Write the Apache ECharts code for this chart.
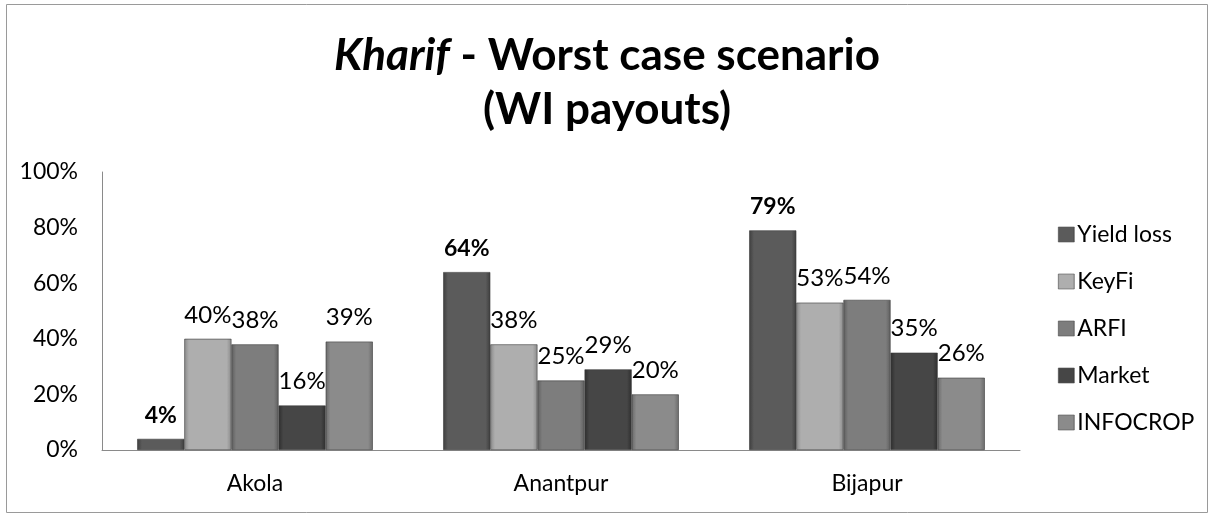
<!DOCTYPE html>
<html><head><meta charset="utf-8">
<script src="https://cdn.jsdelivr.net/npm/echarts@6/dist/echarts.min.js"></script>
<style>html,body{margin:0;padding:0;background:#fff}#c{width:1214px;height:518px}</style>
</head><body><div id="c"></div>
<script>
const categories = ['Akola', 'Anantpur', 'Bijapur'];
const seriesNames = ['Yield loss', 'KeyFi', 'ARFI', 'Market', 'INFOCROP'];
const yieldLoss = [4, 64, 79];
const keyFi = [40, 38, 53];
const arfi = [38, 25, 54];
const market = [16, 29, 35];
const infocrop = [39, 20, 26];
const yTicks = ['0%', '20%', '40%', '60%', '80%', '100%'];

const values = [yieldLoss, keyFi, arfi, market, infocrop];
const colors = ['#5b5b5b', '#aeaeae', '#7d7d7d', '#464646', '#8b8b8b'];
const edges = ['#3e3e3e', '#8a8a8a', '#5e5e5e', '#2e2e2e', '#6a6a6a'];
const font = 'Lato, "Open Sans", sans-serif';

function grad(i) {
  return new echarts.graphic.LinearGradient(0, 0, 1, 0, [
    {offset: 0, color: edges[i]}, {offset: 0.1, color: colors[i]},
    {offset: 0.9, color: colors[i]}, {offset: 1, color: edges[i]}
  ]);
}

const chart = echarts.init(document.getElementById('c'));
chart.setOption({
  animation: false,
  backgroundColor: '#fff',
  graphic: [{type: 'rect', shape: {x: 6.5, y: 4.5, width: 1201, height: 508}, style: {fill: 'none', stroke: '#9a9a9a', lineWidth: 1}}],
  title: {
    text: '{i|Kharif} - Worst case scenario\n(WI payouts)',
    left: 'center', top: 24,
    textStyle: {
      fontFamily: font, fontSize: 44, fontWeight: 'bold', color: '#000', lineHeight: 54,
      rich: {i: {fontStyle: 'italic', fontFamily: font, fontSize: 44, fontWeight: 'bold', color: '#000', lineHeight: 54}}
    }
  },
  legend: {
    orient: 'vertical', left: 1053, top: 218, itemGap: 24,
    itemWidth: 16, itemHeight: 15, icon: 'rect',
    textStyle: {fontFamily: font, fontSize: 23, color: '#000', padding: [0, 0, 0, -2]},
    itemStyle: {borderColor: '#555', borderWidth: 0.6},
    data: seriesNames
  },
  grid: {left: 102, right: 194, top: 172, bottom: 68, containLabel: false},
  xAxis: {
    type: 'category', data: categories,
    axisLine: {lineStyle: {color: '#8a8a8a'}},
    axisTick: {show: false},
    axisLabel: {fontFamily: font, fontSize: 23, color: '#000', margin: 22}
  },
  yAxis: {
    type: 'value', min: 0, max: 100, interval: 20,
    axisLine: {show: true, lineStyle: {color: '#8a8a8a'}},
    axisTick: {show: false},
    splitLine: {show: false},
    axisLabel: {fontFamily: font, fontSize: 23, color: '#000', margin: 24,
      formatter: (v) => yTicks[Math.round(v / 20)]}
  },
  series: seriesNames.map((n, i) => ({
    name: n, type: 'bar', data: values[i],
    barGap: '0%', barCategoryGap: '23%',
    itemStyle: {color: grad(i), borderColor: '#3a3a3a', borderWidth: 0.6},
    label: {
      show: true, position: 'top', distance: 12,
      formatter: '{c}%', fontFamily: font, fontSize: i === 0 ? 23 : 24, color: '#000',
      fontWeight: i === 0 ? 'bold' : 'normal'
    }
  }))
});
</script></body></html>
